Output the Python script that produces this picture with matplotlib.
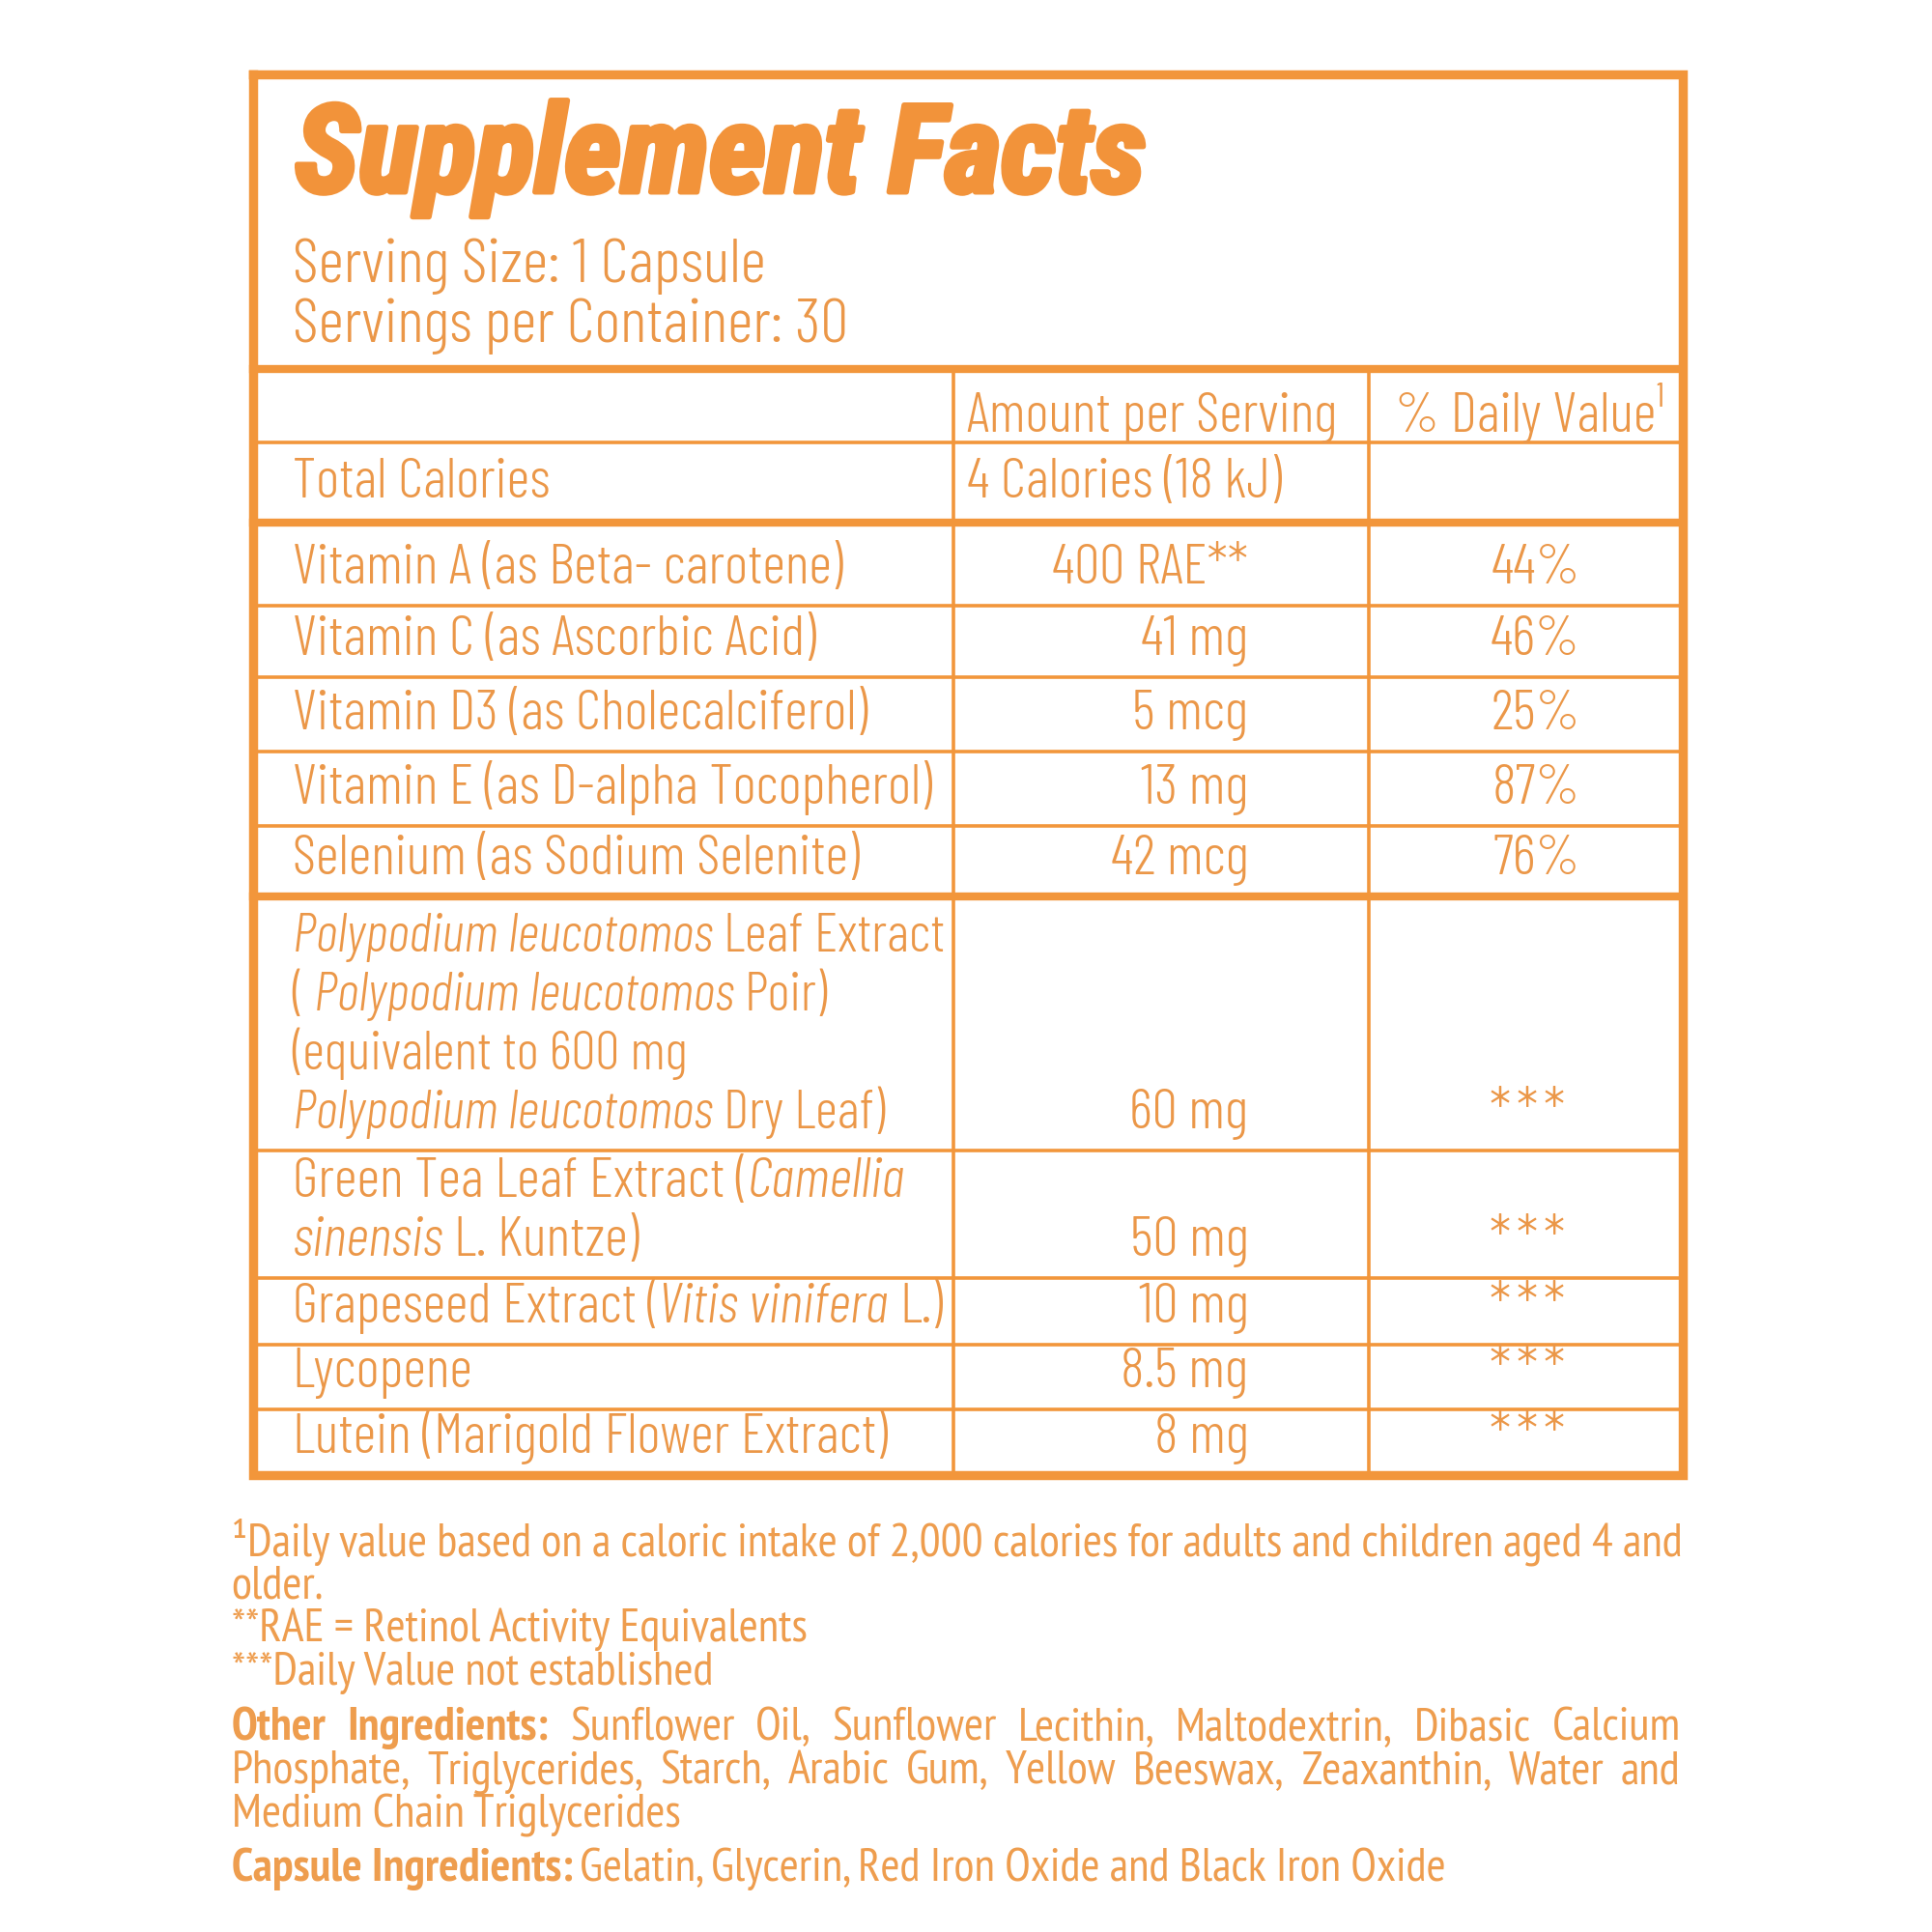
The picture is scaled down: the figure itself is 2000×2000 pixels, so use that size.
import os
import matplotlib
matplotlib.use("Agg")
import matplotlib.pyplot as plt
import matplotlib.patheffects as pe
from matplotlib import font_manager
from matplotlib.font_manager import FontProperties

# ---- data ----
title = "Supplement Facts"
serving_lines = ["Serving Size: 1 Capsule", "Servings per Container: 30"]
col_headers = ["Amount per Serving", "% Daily Value\u00b9"]
calories_label = "Total Calories"
calories_value = "4 Calories (18 kJ)"

vitamin_names = ["Vitamin A (as Beta- carotene)",
                 "Vitamin C (as Ascorbic Acid)",
                 "Vitamin D3 (as Cholecalciferol)",
                 "Vitamin E (as D-alpha Tocopherol)",
                 "Selenium (as Sodium Selenite)"]
vitamin_amounts = ["400 RAE**", "41 mg", "5 mcg", "13 mg", "42 mcg"]
vitamin_dv = ["44%", "46%", "25%", "87%", "76%"]

# label lines as (text, italic) segments
botanical_labels = [
    [[("Polypodium leucotomos", True), (" Leaf Extract", False)],
     [("(", False), (" Polypodium leucotomos", True), (" Poir)", False)],
     [("(equivalent to 600 mg", False)],
     [("Polypodium leucotomos", True), (" Dry Leaf)", False)]],
    [[("Green Tea Leaf Extract (", False), ("Camellia", True)],
     [("sinensis", True), (" L. Kuntze)", False)]],
    [[("Grapeseed Extract (", False), ("Vitis vinifera", True), (" L.)", False)]],
    [[("Lycopene", False)]],
    [[("Lutein (Marigold Flower Extract)", False)]],
]
botanical_amounts = ["60 mg", "50 mg", "10 mg", "8.5 mg", "8 mg"]
botanical_dv = ["***", "***", "***", "***", "***"]

footnotes = ["\u00b9Daily value based on a caloric intake of 2,000 calories for adults and children aged 4 and",
             "older.",
             "**RAE = Retinol Activity Equivalents",
             "***Daily Value not established"]
other_label = "Other Ingredients:"
other_lines = ["Sunflower Oil, Sunflower Lecithin, Maltodextrin, Dibasic Calcium",
               "Phosphate, Triglycerides, Starch, Arabic Gum, Yellow Beeswax, Zeaxanthin, Water and",
               "Medium Chain Triglycerides"]
capsule_label = "Capsule Ingredients:"
capsule_text = "Gelatin, Glycerin, Red Iron Oxide and Black Iron Oxide"

# ---- style ----
LINE = "#F2963B"
TITLE_C = "#F2933A"
TEXT_C = "#EB9748"
FOOT_C = "#EE9D4E"

files = {os.path.basename(f.fname): f.fname for f in font_manager.fontManager.ttflist}


def font(fname, size, **fallback):
    if fname in files:
        return FontProperties(fname=files[fname], size=size)
    return FontProperties(family="Liberation Sans", size=size, **fallback)


F_TITLE = ("RobotoCondensed-BoldItalic.ttf", dict(weight="bold", style="italic"))
F_BODY = ("BarlowCondensed-Light.ttf", {})
F_BODY_IT = ("BarlowCondensed-LightItalic.ttf", dict(style="italic"))
F_FOOT = ("PT_Sans-Narrow-Web-Regular.ttf", {})
F_FOOT_B = ("PT_Sans-Narrow-Web-Bold.ttf", dict(weight="bold"))

W = 1560.0  # layout units across the figure
fig = plt.figure(figsize=(20, 20), dpi=100)
ax = fig.add_axes([0, 0, 1, 1])
ax.set_xlim(0, W)
ax.set_ylim(W, 0)
ax.axis("off")
renderer = fig.canvas.get_renderer()
PX2U = W / 2000.0


def fp(spec, size):
    return font(spec[0], size, **spec[1])


def width_of(s, spec, size):
    t = ax.text(0, 0, s, fontproperties=fp(spec, size))
    w = t.get_window_extent(renderer).width * PX2U
    t.remove()
    return w


def fit(s, spec, target):
    return 40.0 * target / width_of(s, spec, 40.0)


def put(x, y, s, spec, size, color, **kw):
    return ax.text(x, y, s, fontproperties=fp(spec, size), color=color,
                   va=kw.pop("va", "baseline"), **kw)


def draw_segments(x, y, segs, size, color):
    x0 = x
    sp = width_of("a a", F_BODY, size) - width_of("aa", F_BODY, size)
    arts = []
    for s, it in segs:
        spec = F_BODY_IT if it else F_BODY
        x += (len(s) - len(s.lstrip(" "))) * sp
        t = put(x, y, s.strip(" "), spec, size, color, ha="left")
        arts.append(t)
        x += t.get_window_extent(renderer).width * PX2U
        x += (len(s) - len(s.rstrip(" "))) * sp
    return arts, x - x0


def justify(words, x0, x1, y, size, color):
    arts, widths = [], []
    for w, bold in words:
        t = put(0, y, w, F_FOOT_B if bold else F_FOOT, size, color, ha="left")
        arts.append(t)
        widths.append(t.get_window_extent(renderer).width * PX2U)
    gap = (x1 - x0 - sum(widths)) / (len(words) - 1)
    x = x0
    for t, w in zip(arts, widths):
        t.set_x(x)
        x += w + gap


# ---- frame ----
BL, BR, BT, BB = 204, 1359, 60, 1191
C1, C2 = 770, 1105
thick, thin = 6.0, 2.6
ax.plot([BL, BR, BR, BL, BL], [BT, BT, BB, BB, BT], color=LINE, lw=6.8,
        solid_joinstyle="miter")
rules = [(298, thick), (357, thin), (422, thick), (489, thin), (547, thin),
         (607, thin), (667, thin), (724, thick), (929, thin), (1032, thin),
         (1086, thin), (1138, thin)]
for y, lw in rules:
    ax.plot([BL, BR], [y, y], color=LINE, lw=lw)
for x in (C1, C2):
    ax.plot([x, x], [298, BB], color=LINE, lw=thin)

# ---- sizes fitted to the label's widths ----
S_TITLE = fit(title, F_TITLE, 686)
S_SERV = fit(serving_lines[1], F_BODY, 448)
S_BODY = fit(vitamin_names[3], F_BODY, 516)
S_FOOT = fit(footnotes[0][1:], F_FOOT, 1158)

# ---- title block ----
put(238, 155, title, F_TITLE, S_TITLE, TITLE_C,
    path_effects=[pe.withStroke(linewidth=4, foreground=TITLE_C)])
for i, s in enumerate(serving_lines):
    put(236, 228 + 48 * i, s, F_BODY, S_SERV, TEXT_C)

LX, AMT_R, DV_R, STAR_X = 236, 1008, 1276, 1233
LABEL_MAX = C1 - LX - 8
put(781, 349, col_headers[0], F_BODY, S_BODY, TEXT_C)
put(1126, 349, col_headers[1], F_BODY, S_BODY, TEXT_C)
put(LX, 402, calories_label, F_BODY, S_BODY, TEXT_C)
put(781, 402, calories_value, F_BODY, S_BODY, TEXT_C)

# vitamins: baseline sits just above the rule under each row
vit_bottoms = [489, 547, 607, 667, 724]
for name, amt, dv, yb in zip(vitamin_names, vitamin_amounts, vitamin_dv, vit_bottoms):
    yl = yb - 18
    put(LX, yl, name, F_BODY, S_BODY, TEXT_C)
    put(AMT_R, yl, amt, F_BODY, S_BODY, TEXT_C, ha="right")
    put(DV_R, yl, dv, F_BODY, S_BODY, TEXT_C, ha="right")

bot_bottoms = [929, 1032, 1086, 1138, 1191]
for lines, amt, dv, yb in zip(botanical_labels, botanical_amounts, botanical_dv, bot_bottoms):
    ylast = yb - 18
    n = len(lines)
    # shrink a label a little when it would run into the amount column
    widest = 0
    for segs in lines:
        arts, w = draw_segments(LX, 0, segs, S_BODY, TEXT_C)
        for a in arts:
            a.remove()
        widest = max(widest, w)
    size = S_BODY * min(1.0, LABEL_MAX / widest)
    for j, segs in enumerate(lines):
        draw_segments(LX, ylast - 47.5 * (n - 1 - j), segs, size, TEXT_C)
    put(AMT_R, ylast, amt, F_BODY, S_BODY, TEXT_C, ha="right")
    for k, ch in enumerate(dv):
        put(STAR_X + 22 * (k - 1), ylast + 2, ch, F_BODY, S_BODY * 1.05, TEXT_C, ha="center")

# ---- footnotes ----
FX0, FX1 = 187, 1357
for i, s in enumerate(footnotes):
    put(FX0, 1256 + 34.7 * i, s, F_FOOT, S_FOOT, FOOT_C)

words0 = [(w, True) for w in other_label.split()] + [(w, False) for w in other_lines[0].split()]
justify(words0, FX0, FX1, 1405, S_FOOT, FOOT_C)
justify([(w, False) for w in other_lines[1].split()], FX0, FX1, 1440, S_FOOT, FOOT_C)
put(FX0, 1475, other_lines[2], F_FOOT, S_FOOT, FOOT_C)

t = put(FX0, 1519, capsule_label, F_FOOT_B, S_FOOT, FOOT_C)
cx = FX0 + t.get_window_extent(renderer).width * PX2U + 5
put(cx, 1519, capsule_text, F_FOOT, S_FOOT, FOOT_C)

fig.savefig("out.png", dpi=100, facecolor="white")
